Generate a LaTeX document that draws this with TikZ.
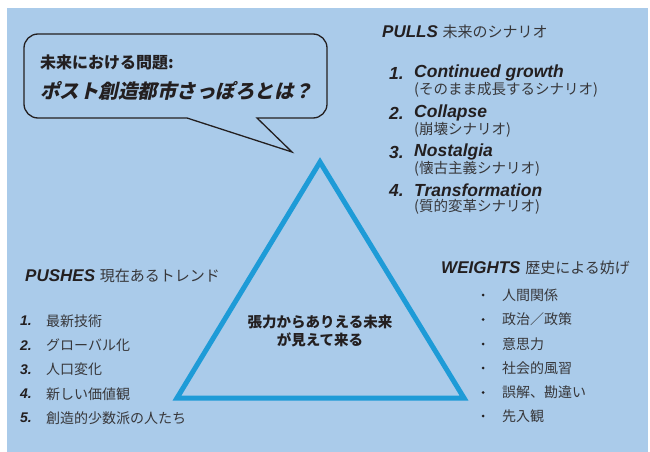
\documentclass[tikz,border=0pt]{standalone}
\usepackage{fontspec}
\setmainfont{Liberation Sans}
\newfontfamily\jp{Noto Sans CJK JP}
\newfontfamily\jpsl{Noto Sans CJK JP}[FakeSlant=0.22]
\definecolor{bgblue}{RGB}{170,203,234}
\definecolor{triblue}{RGB}{30,155,215}
\definecolor{ink}{RGB}{35,31,32}
\definecolor{gray}{RGB}{55,55,58}
\newcommand{\fs}[1]{\fontsize{#1}{#1}\selectfont}
\begin{document}
\begin{tikzpicture}[x=1pt,y=-1pt,
  txt/.style={anchor=west,inner sep=0pt,text=ink},
  jtxt/.style={anchor=west,inner sep=0pt,text=gray,font=\jp\fs{14}},
  num/.style={anchor=west,inner sep=0pt,text=ink,font=\bfseries\itshape\fs{17.5}},
  pnum/.style={anchor=west,inner sep=0pt,text=ink,font=\bfseries\itshape\fs{14}},
  bul/.style={circle,fill=ink,inner sep=0pt,minimum size=3pt},
  bubble/.style={draw=ink,line width=1.3pt,line join=miter},
  tri/.style={draw=triblue,line width=5pt,line join=miter}]
\useasboundingbox (0,0) rectangle (650,452);
\fill[white] (0,0) rectangle (650,452);
\fill[bgblue] (7,8) rectangle (648,452);
% speech bubble
\draw[bubble,rounded corners=14] (175,34) -- (327,34) -- (327,118) [sharp corners] -- (257,118) -- (292,152) -- (187,118) [rounded corners=14] -- (24,118) -- (24,34) -- cycle;
\node[txt,font=\jp\bfseries\fs{16}] (q1) at (40,62) {未来における問題:};
\node[txt,font=\jpsl\bfseries\fs{19.5}] (q2) at (40,91) {ポスト創造都市さっぽろとは？};
% triangle
\coordinate (ta) at (320,162);
\coordinate (tl) at (177,398);
\coordinate (tr) at (464,398);
\draw[tri] (ta) -- (tr) -- (tl) -- cycle;
\node[inner sep=0pt,text=ink,font=\jp\bfseries\fs{14.5},align=center] (tc) at (320,331) {張力からありえる未来\\[3pt]が見えて来る};
% PULLS
\node[txt] (pullh) at (382,32) {\bfseries\itshape\fs{17}PULLS\ \normalfont\jp\fs{15}\color{gray}未来のシナリオ};
\node[num] (n1) at (389,73) {1.};
\node[num] (p1) at (414,73) {Continued growth};
\node[jtxt,font=\jp\fs{14.5}] (p1s) at (414,89.5) {(そのまま成長するシナリオ)};
\node[num] (n2) at (389,113) {2.};
\node[num] (p2) at (414,113) {Collapse};
\node[jtxt,font=\jp\fs{14.5}] (p2s) at (414,129.5) {(崩壊シナリオ)};
\node[num] (n3) at (389,152) {3.};
\node[num] (p3) at (414,152) {Nostalgia};
\node[jtxt,font=\jp\fs{14.5}] (p3s) at (414,168.5) {(懐古主義シナリオ)};
\node[num] (n4) at (389,190) {4.};
\node[num] (p4) at (414,190) {Transformation};
\node[jtxt,font=\jp\fs{14.5}] (p4s) at (414,207) {(質的変革シナリオ)};
% PUSHES
\node[txt] (pushh) at (25,276) {\bfseries\itshape\fs{17}PUSHES\ \normalfont\jp\fs{15}\color{gray}現在あるトレンド};
\node[pnum] (m1) at (20,321) {1.};
\node[jtxt] (s1) at (46,321) {最新技術};
\node[pnum] (m2) at (20,345.5) {2.};
\node[jtxt] (s2) at (46,345.5) {グローバル化};
\node[pnum] (m3) at (20,369.5) {3.};
\node[jtxt] (s3) at (46,369.5) {人口変化};
\node[pnum] (m4) at (20,394) {4.};
\node[jtxt] (s4) at (46,394) {新しい価値観};
\node[pnum] (m5) at (20,418) {5.};
\node[jtxt] (s5) at (46,418) {創造的少数派の人たち};
% WEIGHTS
\node[txt] (weih) at (441,268) {\bfseries\itshape\fs{17}WEIGHTS\ \normalfont\jp\fs{15}\color{gray}歴史による妨げ};
\node[bul] (b1) at (483,295) {};
\node[jtxt] (w1) at (502,295) {人間関係};
\node[bul] (b2) at (483,319.5) {};
\node[jtxt] (w2) at (502,319.5) {政治／政策};
\node[bul] (b3) at (483,344) {};
\node[jtxt] (w3) at (502,344) {意思力};
\node[bul] (b4) at (483,368) {};
\node[jtxt] (w4) at (502,368) {社会的風習};
\node[bul] (b5) at (483,392.5) {};
\node[jtxt] (w5) at (502,392.5) {誤解、勘違い};
\node[bul] (b6) at (483,416) {};
\node[jtxt] (w6) at (502,416) {先入観};
\end{tikzpicture}
\end{document}
